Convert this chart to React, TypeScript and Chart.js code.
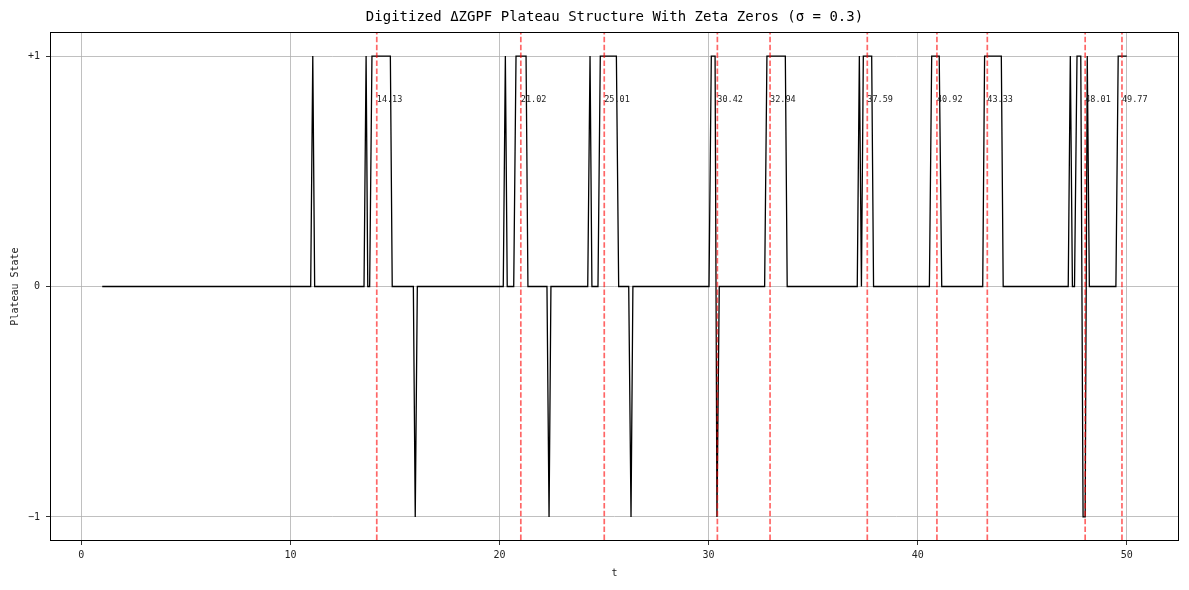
import React, { useEffect, useRef } from "react";
import { Chart, registerables } from "chart.js";

Chart.register(...registerables);

const tPoints = [
  1, 10.97, 11.07, 11.16,
  13.52, 13.62, 13.7, 13.79, 13.9, 14.78, 14.87,
  15.88, 15.97, 16.07,
  20.18, 20.28, 20.37, 20.68, 20.79, 21.27, 21.36,
  22.27, 22.37, 22.46,
  24.22, 24.33, 24.42, 24.71, 24.82, 25.59, 25.7,
  26.18, 26.29, 26.38,
  30.02, 30.13, 30.31, 30.4, 30.51,
  32.68, 32.79, 33.67, 33.76,
  37.11, 37.21, 37.31, 37.4, 37.8, 37.89,
  40.56, 40.67, 41.03, 41.15,
  43.11, 43.2, 44.0, 44.09,
  47.2, 47.3, 47.4, 47.5, 47.62, 47.8, 47.91, 48.01, 48.11, 48.21,
  49.48, 49.59, 50,
];
const plateauState = [
  0, 0, 1, 0,
  0, 1, 0, 0, 1, 1, 0,
  0, -1, 0,
  0, 1, 0, 0, 1, 1, 0,
  0, -1, 0,
  0, 1, 0, 0, 1, 1, 0,
  0, -1, 0,
  0, 1, 1, -1, 0,
  0, 1, 1, 0,
  0, 1, 0, 1, 1, 0,
  0, 1, 1, 0,
  0, 1, 1, 0,
  0, 1, 0, 0, 1, 1, -1, -1, 1, 0,
  0, 1, 1,
];

const zetaZeros = [14.13, 21.02, 25.01, 30.42, 32.94, 37.59, 40.92, 43.33, 48.01, 49.77];
const zeroLabels = ["14.13", "21.02", "25.01", "30.42", "32.94", "37.59", "40.92", "43.33", "48.01", "49.77"];
const labelLevel = 0.8;

const xTicks = [0, 10, 20, 30, 40, 50];
const yTicks = [-1, 0, 1];
const yTickLabels: Record<string, string> = { "-1": "−1", "0": "0", "1": "+1" };

const titleText = "Digitized ΔZGPF Plateau Structure With Zeta Zeros (σ = 0.3)";
const xTitle = "t";
const yTitle = "Plateau State";

const FONT = "'DejaVu Sans Mono', monospace";

export default function App() {
  const ref = useRef<HTMLCanvasElement | null>(null);

  useEffect(() => {
    document.body.style.margin = "0";
    const canvas = ref.current;
    if (!canvas) return;

    const overlay = {
      id: "overlay",
      afterDatasetsDraw(chart: any) {
        const { ctx, scales } = chart;
        ctx.save();
        ctx.font = `8.5px ${FONT}`;
        ctx.fillStyle = "#222";
        ctx.textAlign = "left";
        ctx.textBaseline = "alphabetic";
        zetaZeros.forEach((z, i) => {
          ctx.fillText(zeroLabels[i], scales.x.getPixelForValue(z), scales.y.getPixelForValue(labelLevel));
        });
        ctx.restore();
      },
      afterDraw(chart: any) {
        const { ctx, chartArea: a } = chart;
        ctx.save();
        ctx.strokeStyle = "#000";
        ctx.lineWidth = 1;
        ctx.strokeRect(a.left - 0.5, a.top - 0.5, a.right - a.left + 1, a.bottom - a.top + 1);
        ctx.font = `14px ${FONT}`;
        ctx.fillStyle = "#000";
        ctx.textAlign = "center";
        ctx.textBaseline = "middle";
        ctx.fillText(titleText, (a.left + a.right) / 2, 17);
        ctx.restore();
      },
    };

    const zeroDatasets = zetaZeros.map((z) => ({
      data: [
        { x: z, y: -1.1 },
        { x: z, y: 1.1 },
      ],
      borderColor: "rgba(255,0,0,0.6)",
      borderWidth: 1.7,
      borderDash: [5.5, 2.4],
      pointRadius: 0,
      showLine: true,
      order: 1,
    }));

    const chart = new Chart(canvas, {
      type: "scatter",
      data: {
        datasets: [
          {
            data: tPoints.map((t, i) => ({ x: t, y: plateauState[i] })),
            borderColor: "#000",
            borderWidth: 1.3,
            pointRadius: 0,
            showLine: true,
            tension: 0,
            order: 2,
          },
          ...zeroDatasets,
        ] as any,
      },
      options: {
        animation: false,
        responsive: false,
        layout: { padding: { top: 33, right: 11, left: 0, bottom: 0 } },
        plugins: { legend: { display: false }, tooltip: { enabled: false }, title: { display: false } },
        scales: {
          x: {
            type: "linear",
            min: -1.45,
            max: 52.45,
            afterBuildTicks: (s: any) => {
              s.ticks = xTicks.map((v) => ({ value: v }));
            },
            afterFit: (s: any) => {
              s.height = 50;
            },
            ticks: { font: { family: FONT, size: 10 }, color: "#222", padding: 4, maxRotation: 0 },
            grid: { color: "#b0b0b0", lineWidth: 0.8, tickColor: "#000", tickLength: 5 },
            border: { display: false },
            title: { display: true, text: xTitle, font: { family: FONT, size: 10 }, color: "#222", padding: { top: 0, bottom: 11 } },
          },
          y: {
            type: "linear",
            min: -1.1,
            max: 1.1,
            afterBuildTicks: (s: any) => {
              s.ticks = yTicks.map((v) => ({ value: v }));
            },
            afterFit: (s: any) => {
              s.width = 51;
            },
            ticks: {
              font: { family: FONT, size: 10 },
              color: "#222",
              padding: 6,
              callback: (v: any) => yTickLabels[String(v)] ?? String(v),
            },
            grid: { color: "#b0b0b0", lineWidth: 0.8, tickColor: "#000", tickLength: 5 },
            border: { display: false },
            title: { display: true, text: yTitle, font: { family: FONT, size: 10 }, color: "#222", padding: { top: 9, bottom: 0 } },
          },
        },
      },
      plugins: [overlay],
    });

    return () => chart.destroy();
  }, []);

  return (
    <div style={{ width: 1189, height: 590 }}>
      <canvas ref={ref} width={1189} height={590} style={{ display: "block" }} />
    </div>
  );
}
